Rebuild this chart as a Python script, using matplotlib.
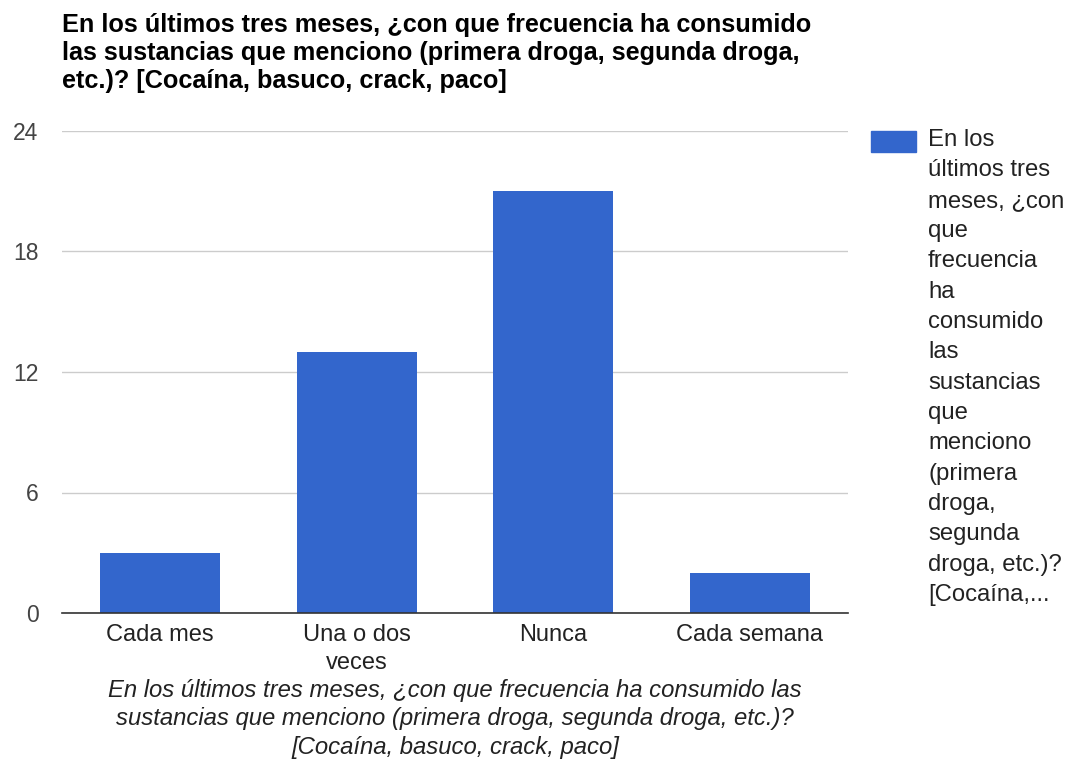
import matplotlib.pyplot as plt

plt.rcParams['font.family'] = ['Liberation Sans', 'DejaVu Sans']

# respuestas por categoria
categorias = ["Cada mes", "Una o dos\nveces", "Nunca", "Cada semana"]
conteos = [3, 13, 21, 2]
ticks_y = [0, 6, 12, 18, 24]

titulo = ("En los últimos tres meses, ¿con que frecuencia ha consumido\n"
          "las sustancias que menciono (primera droga, segunda droga,\n"
          "etc.)? [Cocaína, basuco, crack, paco]")
subtitulo = ("En los últimos tres meses, ¿con que frecuencia ha consumido las\n"
             "sustancias que menciono (primera droga, segunda droga, etc.)?\n"
             "[Cocaína, basuco, crack, paco]")
leyenda = ("En los\núltimos tres\nmeses, ¿con\nque\nfrecuencia\nha\nconsumido\nlas\n"
           "sustancias\nque\nmenciono\n(primera\ndroga,\nsegunda\ndroga, etc.)?\n[Cocaína,...")

W, H = 1068, 761
fig = plt.figure(figsize=(W / 100, H / 100), dpi=100)
ax = fig.add_axes([62 / W, 1 - 613 / H, (848 - 62) / W, (613 - 131) / H])

x = range(len(categorias))
ax.bar(x, conteos, width=0.61, color="#3366cc", zorder=3)

ax.set_xlim(-0.5, len(categorias) - 0.5)
ax.set_ylim(0, 24)
ax.set_yticks(ticks_y)
ax.set_xticks(list(x))
ax.set_xticklabels(categorias, fontsize=17, color="#222222", linespacing=1.35)
ax.tick_params(axis="x", length=0, pad=8)
ax.tick_params(axis="y", length=0, pad=17, labelsize=16.5, labelcolor="#444444")
ax.grid(axis="y", color="#cccccc", linewidth=1, zorder=0)
for s in ["top", "right", "left"]:
    ax.spines[s].set_visible(False)
ax.spines["bottom"].set_color("#333333")
ax.spines["bottom"].set_linewidth(1.2)
ax.spines["bottom"].set_zorder(4)

fig.text(62 / W, 1 - 13 / H, titulo, ha="left", va="top", fontsize=18.2,
         fontweight="bold", color="#000000", linespacing=1.22)

fig.text(455 / W, 1 - 679 / H, subtitulo, ha="center", va="top", fontsize=17.2,
         style="italic", color="#222222", linespacing=1.3)

# leyenda dibujada a mano
fig.patches.append(plt.Rectangle((871 / W, 1 - 152 / H), 45 / W, 21 / H,
                                 transform=fig.transFigure, color="#3366cc"))
fig.text(928 / W, 1 - 129 / H, leyenda, ha="left", va="top", fontsize=17.2,
         color="#222222", linespacing=1.49)

fig.savefig("out.png", dpi=100)
